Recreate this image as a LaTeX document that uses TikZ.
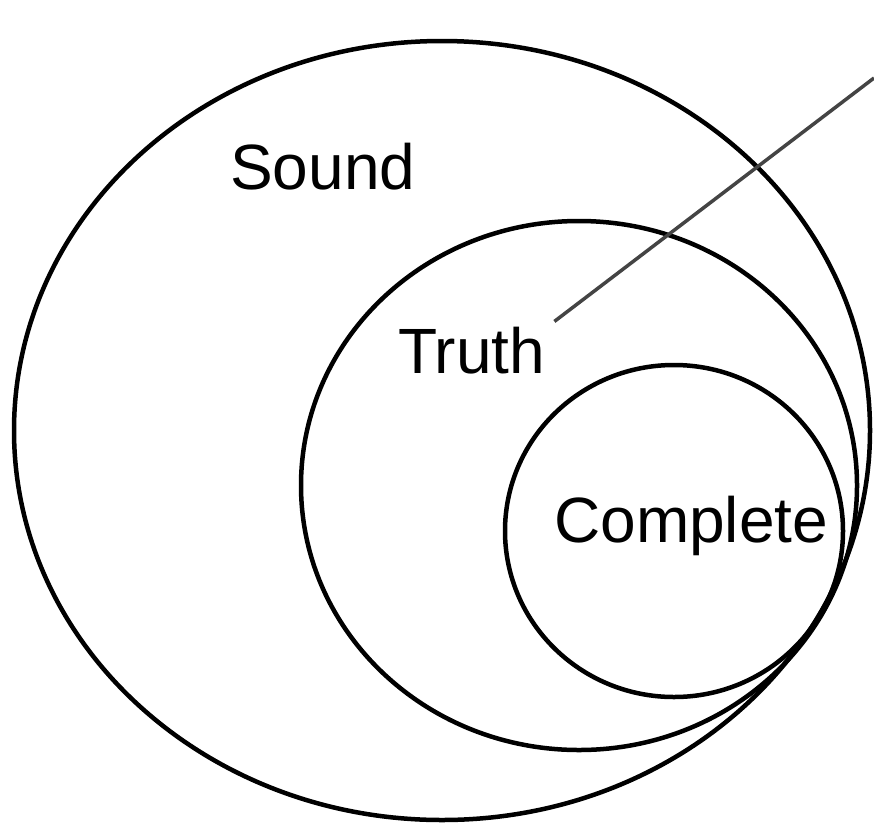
\documentclass[tikz,border=0pt]{standalone}
\usepackage{fontspec}
\setmainfont{Liberation Sans}
\definecolor{leadGray}{RGB}{68, 68, 68}
\usetikzlibrary{calc}

\begin{document}
\begin{tikzpicture}[
    x=1pt, y=-1pt,
    setline/.style={draw=black, line width=4.5pt},
    settext/.style={inner sep=0pt, anchor=base west,
                    font=\fontsize{64}{77}\selectfont},
    leader/.style={draw=leadGray, line width=3.5pt},
  ]
    \useasboundingbox (0,0) rectangle (874,822);

    \draw[setline] (442,430.5) ellipse [x radius=428, y radius=389.5];
    \draw[setline] (579,485.5) ellipse [x radius=278, y radius=264.5];
    \draw[setline] (674,531) ellipse [x radius=169, y radius=166];

    \node[settext] (sound) at (230,189) {Sound};
    \node[settext] (truth) at (398,373) {Truth};
    \node[settext] (complete) at (554,542) {Complete};

    \coordinate (corner) at (874,78);
    \draw[leader] ($(truth.north east)+(9,-5)$) -- (corner);
  \end{tikzpicture}
\end{document}
